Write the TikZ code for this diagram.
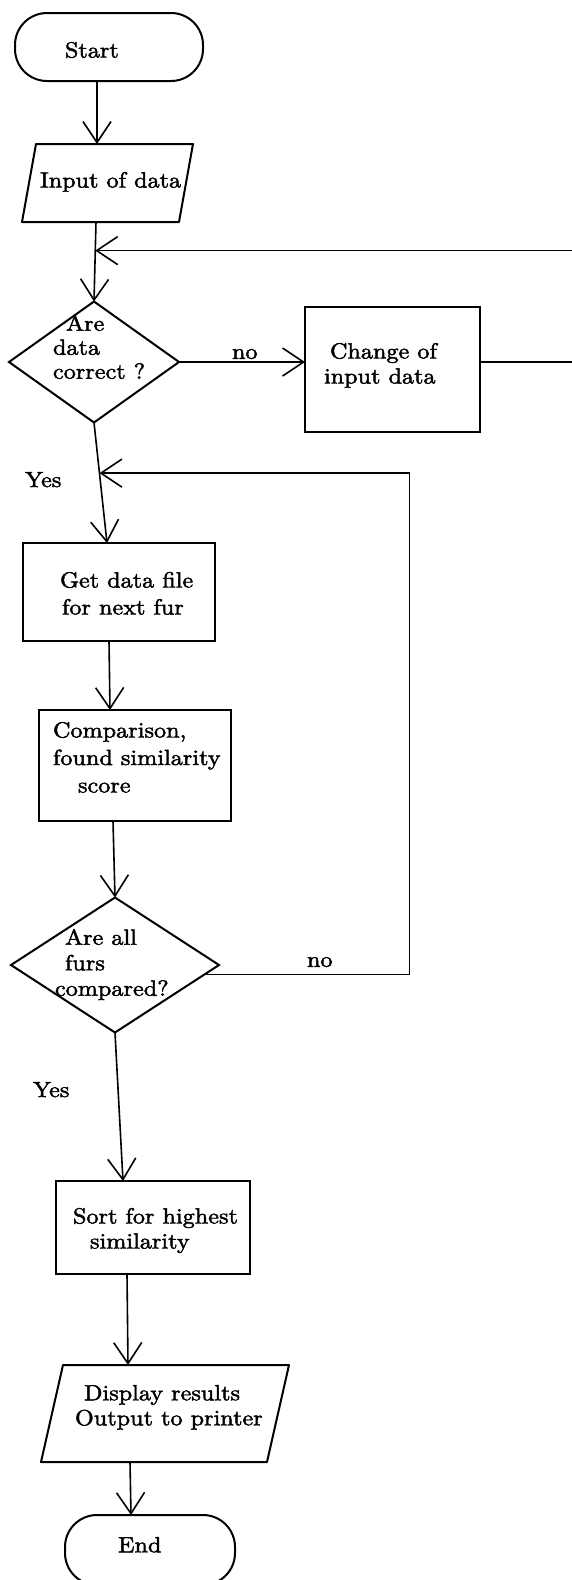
\documentclass[tikz,border=0pt]{standalone}
\usepackage{fontspec}
\setmainfont{lmroman10-regular.otf}[FakeStretch=1.1,FakeBold=2]
\usetikzlibrary{arrows.meta,shapes.geometric}
\begin{document}
\begin{tikzpicture}[x=1pt,y=-1pt,
  every node/.style={outer sep=0pt, inner sep=0pt},
  ln/.style={line width=2pt, line join=round},
  arr/.style={line width=1.6pt, -{Straight Barb[length=21pt,width=28pt]}},
  procbox/.style={draw, rectangle, line width=2pt},
  terminal/.style={draw, rectangle, rounded corners=32pt, line width=2pt},
  decision/.style={draw, diamond, line width=2pt},
  iobox/.style={rectangle},
  txt/.style={anchor=north west, align=left, font=\fontsize{22}{26}\selectfont}
]
\useasboundingbox (0,0) rectangle (571,1580);

% shapes
\node[terminal, minimum width=188pt, minimum height=68pt] (start) at (109,47) {};
\node[iobox, minimum width=171pt, minimum height=78pt] (inp) at (107.5,183) {};
\draw[ln] ([xshift=14pt]inp.north west) -- (inp.north east) -- ([xshift=-14pt]inp.south east) -- (inp.south west) -- cycle;
\node[decision, minimum width=170pt, minimum height=121pt] (d1) at (94,362) {};
\node[procbox, minimum width=175pt, minimum height=125pt] (chg) at (392.5,369.5) {};
\node[procbox, minimum width=192pt, minimum height=98pt] (get) at (119,592) {};
\node[procbox, minimum width=192pt, minimum height=111pt] (cmp) at (135,765.5) {};
\node[decision, minimum width=208pt, minimum height=135pt] (d2) at (115,965) {};
\node[procbox, minimum width=194pt, minimum height=93pt] (sort) at (153,1227.5) {};
\node[iobox, minimum width=248pt, minimum height=97pt] (disp) at (165,1413.5) {};
\draw[ln] ([xshift=22pt]disp.north west) -- (disp.north east) -- ([xshift=-22pt]disp.south east) -- (disp.south west) -- cycle;
\node[terminal, minimum width=170pt, minimum height=70pt] (end) at (150,1550) {};

% texts
\node[txt] (t-start) at (65,42) {Start};
\node[txt] (t-inp) at (40,172) {Input of data};
\node[txt, font=\fontsize{22}{24}\selectfont] (t-d1) at (53,315) {\hspace*{13pt}Are\\data\\correct ?};
\node[txt] (t-no1) at (232,349) {no};
\node[txt, font=\fontsize{22}{25}\selectfont] (t-chg) at (324,343) {\hspace*{6pt}Change of\\input data};
\node[txt] (t-yes1) at (25,472) {Yes};
\node[txt, font=\fontsize{22}{27}\selectfont] (t-get) at (60,572) {Get data file\\\hspace*{2pt}for next fur};
\node[txt, font=\fontsize{22}{27.5}\selectfont] (t-cmp) at (53,722) {Comparison,\\found similarity\\\hspace*{25pt}score};
\node[txt, font=\fontsize{22}{25.5}\selectfont] (t-d2) at (55,929) {\hspace*{10pt}Are all\\\hspace*{10pt}furs\\compared?};
\node[txt] (t-no2) at (307,957) {no};
\node[txt] (t-yes2) at (33,1082) {Yes};
\node[txt, font=\fontsize{22}{25}\selectfont] (t-sort) at (73,1208) {Sort for highest\\\hspace*{17pt}similarity};
\node[txt, font=\fontsize{22}{25}\selectfont] (t-disp) at (75,1385) {\hspace*{9pt}Display results\\Output to printer};
\node[txt] (t-end) at (118,1537) {End};

% connectors
\draw[arr] ([xshift=-12pt]start.south) -- ([xshift=-10.5pt]inp.north);
\draw[arr] ([xshift=-11.5pt]inp.south) -- coordinate[pos=0.36] (j1) (d1.north);
\draw[arr] (d1.east) -- (d1.east -| chg.west);
\draw[arr] (d1.east -| chg.east) -- ++(100,0) |- (j1);
\draw[arr] (d1.south) -- coordinate[pos=0.42] (j2) ([xshift=-12pt]get.north);
\draw[arr] ([xshift=-10pt]get.south) -- ([xshift=-25pt]cmp.north);
\draw[arr] ([xshift=-22pt]cmp.south) -- (d2.north);
\draw[arr] (d2.south) -- ([xshift=-30pt]sort.north);
\draw[arr] ([xshift=-26pt]sort.south) -- ([xshift=-37pt]disp.north);
\draw[arr] ([xshift=-35pt]disp.south) -- ([xshift=-19pt]end.north);
\draw[arr] (d2.-6.4) -- ++(205,0) |- (j2);
\end{tikzpicture}
\end{document}
